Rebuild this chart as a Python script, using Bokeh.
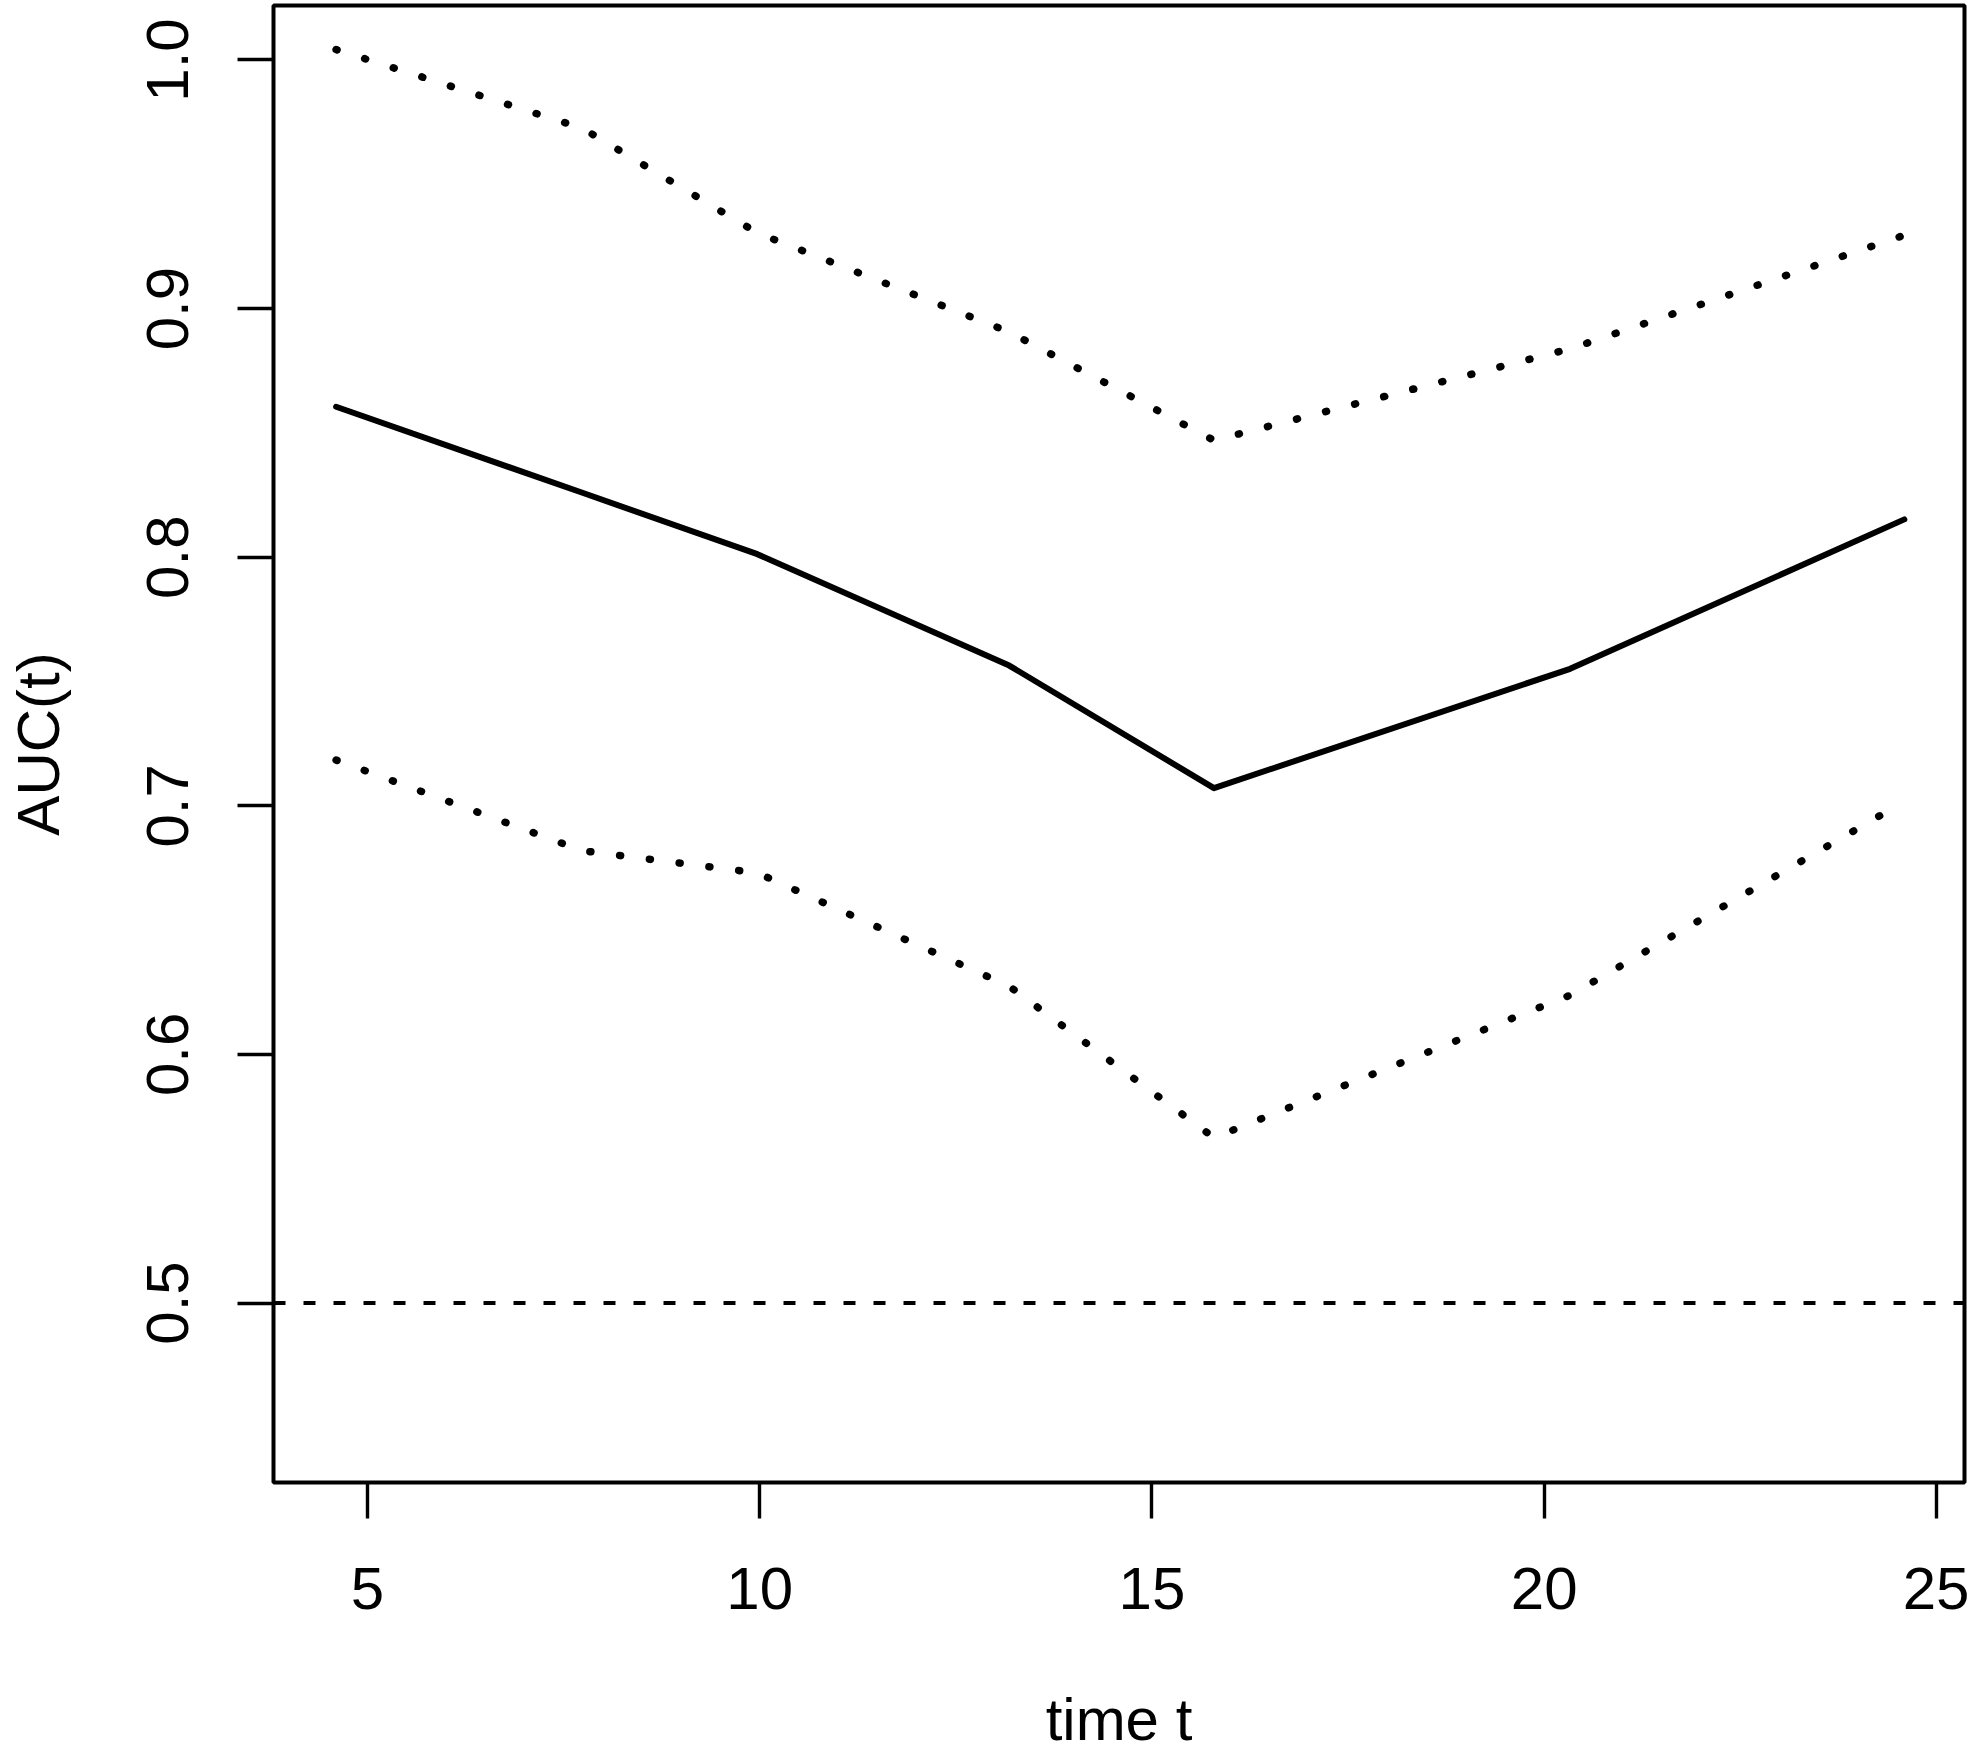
from bokeh.plotting import figure
from bokeh.models import FixedTicker, Span
from bokeh.embed import file_html
from bokeh.resources import INLINE

# ---- data ----
time_t = [4.60, 7.74, 9.97, 13.18, 15.79, 20.33, 24.59]
auc = [0.8605, 0.8259, 0.8012, 0.7564, 0.7071, 0.7551, 0.8152]
upper = [1.0042, 0.9725, 0.9304, 0.8906, 0.8470, 0.8838, 0.9295]
lower = [0.7184, 0.6819, 0.6730, 0.6274, 0.5665, 0.6238, 0.7017]
ref_level = 0.5
x_ticks = [5, 10, 15, 20, 25]
y_ticks = [0.5, 0.6, 0.7, 0.8, 0.9, 1.0]
y_tick_labels = ["0.5", "0.6", "0.7", "0.8", "0.9", "1.0"]
x_title = "time t"
y_title = "AUC(t)"

FONT = "Liberation Sans"

X0, X1 = 3.802, 25.357
Y0, Y1 = 0.4278, 1.0219

p = figure(width=1969, height=1756, output_backend="svg", toolbar_location=None,
           x_range=(X0, X1), y_range=(Y0, Y1),
           min_border_left=273, min_border_right=5, min_border_top=5,
           min_border_bottom=274)

p.xgrid.visible = False
p.ygrid.visible = False
p.background_fill_color = "white"
p.border_fill_color = "white"
p.outline_line_color = "black"
p.outline_line_width = 4

p.line(time_t, upper, line_color="black", line_width=7.5, line_dash="1 29", line_cap="round")
p.line(time_t, lower, line_color="black", line_width=7.5, line_dash="1 29", line_cap="round")
p.line(time_t, auc, line_color="black", line_width=6, line_cap="round", line_join="round")
p.add_layout(Span(location=ref_level, dimension="width", line_color="black",
                  line_width=4, line_dash="12 18"))

for ax in (p.xaxis[0], p.yaxis[0]):
    ax.axis_line_color = None
    ax.major_tick_line_color = "black"
    ax.major_tick_line_width = 3.4
    ax.major_tick_out = 36
    ax.major_tick_in = 0
    ax.minor_tick_line_color = None
    ax.major_label_text_font = FONT
    ax.major_label_text_font_size = "60px"
    ax.major_label_text_color = "black"
    ax.axis_label_text_font = FONT
    ax.axis_label_text_font_size = "60px"
    ax.axis_label_text_font_style = "normal"
    ax.axis_label_text_color = "black"

p.xaxis.ticker = FixedTicker(ticks=x_ticks)
p.yaxis.ticker = FixedTicker(ticks=y_ticks)
p.yaxis.major_label_overrides = {t: l for t, l in zip(y_ticks, y_tick_labels)}
p.yaxis.major_label_orientation = "vertical"
p.xaxis.major_label_standoff = 49
p.yaxis.major_label_standoff = 49
p.xaxis.axis_label = x_title
p.yaxis.axis_label = y_title
p.xaxis.axis_label_standoff = 74
p.yaxis.axis_label_standoff = 73

open("out.html", "w").write(file_html(p, INLINE))
